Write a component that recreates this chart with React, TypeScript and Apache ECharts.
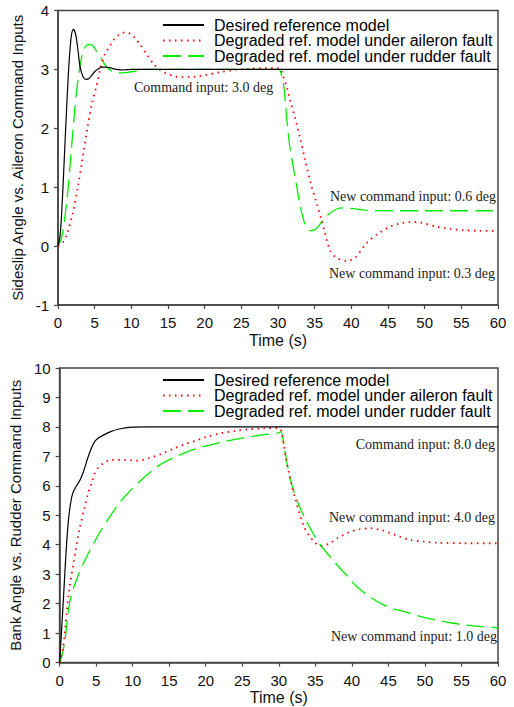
import React, { useEffect, useRef } from "react";
import * as echarts from "echarts";

const seriesNames = [
  "Desired reference model",
  "Degraded ref. model under aileron fault",
  "Degraded ref. model under rudder fault",
];

// Top chart: sideslip angle
const sideDesiredT = [0, 0.3, 0.6, 0.9, 1.2, 1.5, 1.8, 2.1, 2.4, 2.7, 3.0, 3.4, 3.8, 4.2, 4.6, 5.0, 5.5, 6.0, 6.5, 7, 8, 9, 10, 12, 30, 60];
const sideDesiredV = [0, 0.2, 0.8, 1.6, 2.4, 3.1, 3.55, 3.68, 3.6, 3.35, 3.05, 2.88, 2.83, 2.84, 2.9, 2.96, 3.01, 3.04, 3.04, 3.03, 3.0, 2.99, 3.0, 3.0, 3.0, 3.0];

const sideAileronT = [0, 0.7, 1.2, 2, 2.7, 3.3, 4, 4.6, 5.2, 5.8, 6.4, 7, 7.6, 8.2, 8.8, 9.3, 9.9, 10.5, 11.2, 12, 13, 14, 15, 16, 17, 18, 19, 20, 22, 24, 26, 28, 30, 30.4, 30.7, 31.2, 31.7, 32.3, 33, 33.7, 34.5, 35.3, 36, 37.1, 38, 39.4, 40.5, 42.1, 43.5, 45.3, 46.5, 48, 49.5, 51.6, 53.5, 55.3, 57.5, 60];
const sideAileronV = [0, 0.07, 0.2, 0.55, 1.0, 1.45, 2.0, 2.4, 2.7, 3.02, 3.26, 3.38, 3.5, 3.58, 3.62, 3.63, 3.6, 3.53, 3.42, 3.27, 3.1, 2.98, 2.92, 2.88, 2.87, 2.87, 2.88, 2.9, 2.95, 2.99, 3.01, 3.02, 3.02, 3.0, 2.88, 2.7, 2.45, 2.19, 1.85, 1.46, 1.05, 0.72, 0.41, -0.07, -0.2, -0.25, -0.2, 0.05, 0.2, 0.33, 0.38, 0.41, 0.4, 0.33, 0.29, 0.27, 0.26, 0.26];

const sideRudderT = [0, 0.5, 1.0, 1.4, 1.8, 2.2, 2.6, 3.0, 3.4, 3.8, 4.2, 4.5, 4.9, 5.3, 5.8, 6.3, 7, 8, 9, 10, 11, 12, 15, 20, 25, 30, 30.3, 30.8, 31.2, 31.6, 32, 32.5, 33, 33.5, 34, 34.5, 35, 35.5, 36, 37, 38, 39, 40, 42, 45, 50, 60];
const sideRudderV = [0, 0.15, 0.55, 1.0, 1.6, 2.2, 2.7, 3.05, 3.3, 3.4, 3.42, 3.42, 3.38, 3.3, 3.2, 3.1, 3.0, 2.94, 2.94, 2.96, 2.98, 3.0, 3.0, 3.0, 3.0, 3.0, 2.98, 2.7, 2.15, 1.7, 1.4, 1.05, 0.7, 0.44, 0.3, 0.26, 0.28, 0.33, 0.42, 0.55, 0.63, 0.65, 0.64, 0.61, 0.6, 0.6, 0.6];

// Bottom chart: bank angle
const bankDesiredT = [0, 0.3, 0.6, 0.9, 1.2, 1.5, 1.8, 2.2, 2.8, 3.3, 3.8, 4.3, 4.8, 5.3, 6, 7, 8, 9, 10, 12, 30, 60];
const bankDesiredV = [0, 1.2, 2.5, 3.8, 4.8, 5.4, 5.75, 5.95, 6.2, 6.5, 6.9, 7.25, 7.5, 7.62, 7.72, 7.84, 7.92, 7.97, 7.99, 8.0, 8.0, 8.0];

const bankAileronT = [0, 0.5, 1.2, 1.9, 2.7, 3.45, 3.9, 4.4, 4.8, 5.4, 6, 7.1, 8.9, 10.5, 12.1, 13.9, 15.5, 17, 18.5, 20, 22, 24, 26, 28, 30, 30.3, 30.6, 31, 31.6, 32.3, 33.45, 34.2, 35.05, 35.9, 37, 38, 39.8, 41, 42.5, 44, 45.3, 46.5, 48, 50, 51.6, 55.3, 60];
const bankAileronV = [0, 0.54, 2.23, 3.37, 4.5, 5.29, 5.74, 6.1, 6.42, 6.65, 6.76, 6.88, 6.88, 6.85, 6.93, 7.08, 7.25, 7.4, 7.52, 7.65, 7.78, 7.86, 7.92, 7.95, 7.96, 7.9, 7.5, 6.9, 6.2, 5.52, 4.61, 4.3, 4.05, 3.96, 4.05, 4.22, 4.44, 4.52, 4.56, 4.5, 4.39, 4.28, 4.16, 4.1, 4.07, 4.05, 4.05];

const bankRudderT = [0, 0.3, 0.73, 1.4, 2.3, 3.7, 5.7, 7.8, 8.9, 11.2, 13.7, 16, 18, 20, 22.5, 25, 27.5, 30, 30.3, 30.7, 31.1, 31.6, 32.5, 33.7, 34.7, 35.7, 37, 38.2, 39.5, 40.7, 42.5, 44.4, 46, 48, 50, 51.6, 53.5, 55.7, 58, 60];
const bankRudderV = [0, 0.2, 0.76, 2.07, 2.8, 3.59, 4.5, 5.29, 5.63, 6.2, 6.71, 7.0, 7.2, 7.35, 7.5, 7.62, 7.72, 7.8, 7.84, 7.4, 6.8, 6.2, 5.5, 4.84, 4.38, 3.99, 3.6, 3.25, 2.9, 2.57, 2.22, 1.95, 1.8, 1.67, 1.52, 1.44, 1.35, 1.27, 1.21, 1.18];

const topAnnotations = [
  { text: "Command input: 3.0 deg", x: 134, y: 87, align: "left" },
  { text: "New command input: 0.6 deg", x: 496, y: 196, align: "right" },
  { text: "New command input: 0.3 deg", x: 495, y: 273, align: "right" },
];
const bottomAnnotations = [
  { text: "Command input: 8.0 deg", x: 495, y: 444, align: "right" },
  { text: "New command input: 4.0 deg", x: 495, y: 517, align: "right" },
  { text: "New command input: 1.0 deg", x: 497, y: 636, align: "right" },
];

const legendRowCentersTop = [25, 40.5, 56];
const legendRowCentersBottom = [380, 395.5, 411];

const zip = (t: number[], v: number[]) => t.map((x, i) => [x, v[i]]);

const SANS = "'Liberation Sans', Arial, sans-serif";
const SERIF = "'Liberation Serif', 'Times New Roman', serif";

const styles = [
  { color: "#000000", width: 1.2, type: "solid" as any },
  { color: "#ff0000", width: 1.8, type: [1.5, 4.5] as any },
  { color: "#00ee00", width: 1.3, type: [18, 7] as any },
];

export default function App() {
  const ref = useRef<HTMLDivElement>(null);
  useEffect(() => {
    if (!ref.current) return;
    const chart = echarts.init(ref.current, undefined, { renderer: "svg" });
    const axisLine = { show: true, onZero: false, lineStyle: { color: "#444", width: 1.5 } };
    const axisTick = { show: true, inside: false, length: 4, lineStyle: { color: "#444", width: 1.2 } };
    const axisLabel = { color: "#111", fontFamily: SANS, fontSize: 15 };
    const mkX = (gridIndex: number) => ({
      type: "value",
      gridIndex,
      min: 0,
      max: 60,
      interval: 5,
      name: "Time (s)",
      nameLocation: "middle",
      nameGap: 27,
      nameTextStyle: { color: "#111", fontFamily: SANS, fontSize: 16 },
      axisLine,
      axisTick,
      axisLabel: { ...axisLabel, margin: 10 },
      splitLine: { show: false },
    });
    const mkY = (gridIndex: number, min: number, max: number, name: string) => ({
      type: "value",
      gridIndex,
      min,
      max,
      interval: 1,
      name,
      nameLocation: "middle",
      nameGap: 28,
      nameTextStyle: { color: "#111", fontFamily: SANS, fontSize: 15 },
      axisLine,
      axisTick,
      axisLabel: { ...axisLabel, margin: 9 },
      splitLine: { show: false },
    });
    const topData = [zip(sideDesiredT, sideDesiredV), zip(sideAileronT, sideAileronV), zip(sideRudderT, sideRudderV)];
    const botData = [zip(bankDesiredT, bankDesiredV), zip(bankAileronT, bankAileronV), zip(bankRudderT, bankRudderV)];
    const series: any[] = [];
    [topData, botData].forEach((group, gi) => {
      group.forEach((d, si) => {
        series.push({
          type: "line",
          name: seriesNames[si],
          xAxisIndex: gi,
          yAxisIndex: gi,
          data: d,
          symbol: "none",
          smooth: 0.3,
          lineStyle: styles[si],
          itemStyle: { color: styles[si].color },
          z: 3 - si,
        });
      });
    });
    const legends: any[] = [];
    [legendRowCentersTop, legendRowCentersBottom].forEach((rows) => {
      rows.forEach((cy, i) => {
        legends.push({
          data: [seriesNames[i]],
          orient: "horizontal",
          left: 162,
          top: cy - 8,
          padding: 0,
          itemWidth: 41,
          itemHeight: 16,
          selectedMode: false,
          itemStyle: { opacity: 0 },
          textStyle: { color: "#000", fontFamily: SANS, fontSize: 16, lineHeight: 16, padding: [0, 0, 0, 5] },
        });
      });
    });
    const graphics = [...topAnnotations, ...bottomAnnotations].map((a) => ({
      type: "text",
      x: a.x,
      y: a.y,
      z: 10,
      style: {
        text: a.text,
        fill: "#222",
        font: `14px ${SERIF}`,
        textAlign: a.align,
        textVerticalAlign: "middle",
      },
    }));
    chart.setOption({
      animation: false,
      backgroundColor: "#fff",
      grid: [
        { left: 58, right: 16, top: 10.5, height: 294.5, show: true, borderColor: "#444", borderWidth: 1.5 },
        { left: 58, right: 16, top: 368, height: 294.5, show: true, borderColor: "#444", borderWidth: 1.5 },
      ],
      xAxis: [mkX(0), mkX(1)],
      yAxis: [
        mkY(0, -1, 4, "Sideslip Angle vs. Aileron Command Inputs"),
        mkY(1, 0, 10, "Bank Angle vs. Rudder Command Inputs"),
      ],
      legend: legends,
      graphic: graphics,
      series,
    });
    return () => chart.dispose();
  }, []);
  return <div ref={ref} style={{ position: "absolute", left: 0, top: 0, width: 514, height: 707 }} />;
}
